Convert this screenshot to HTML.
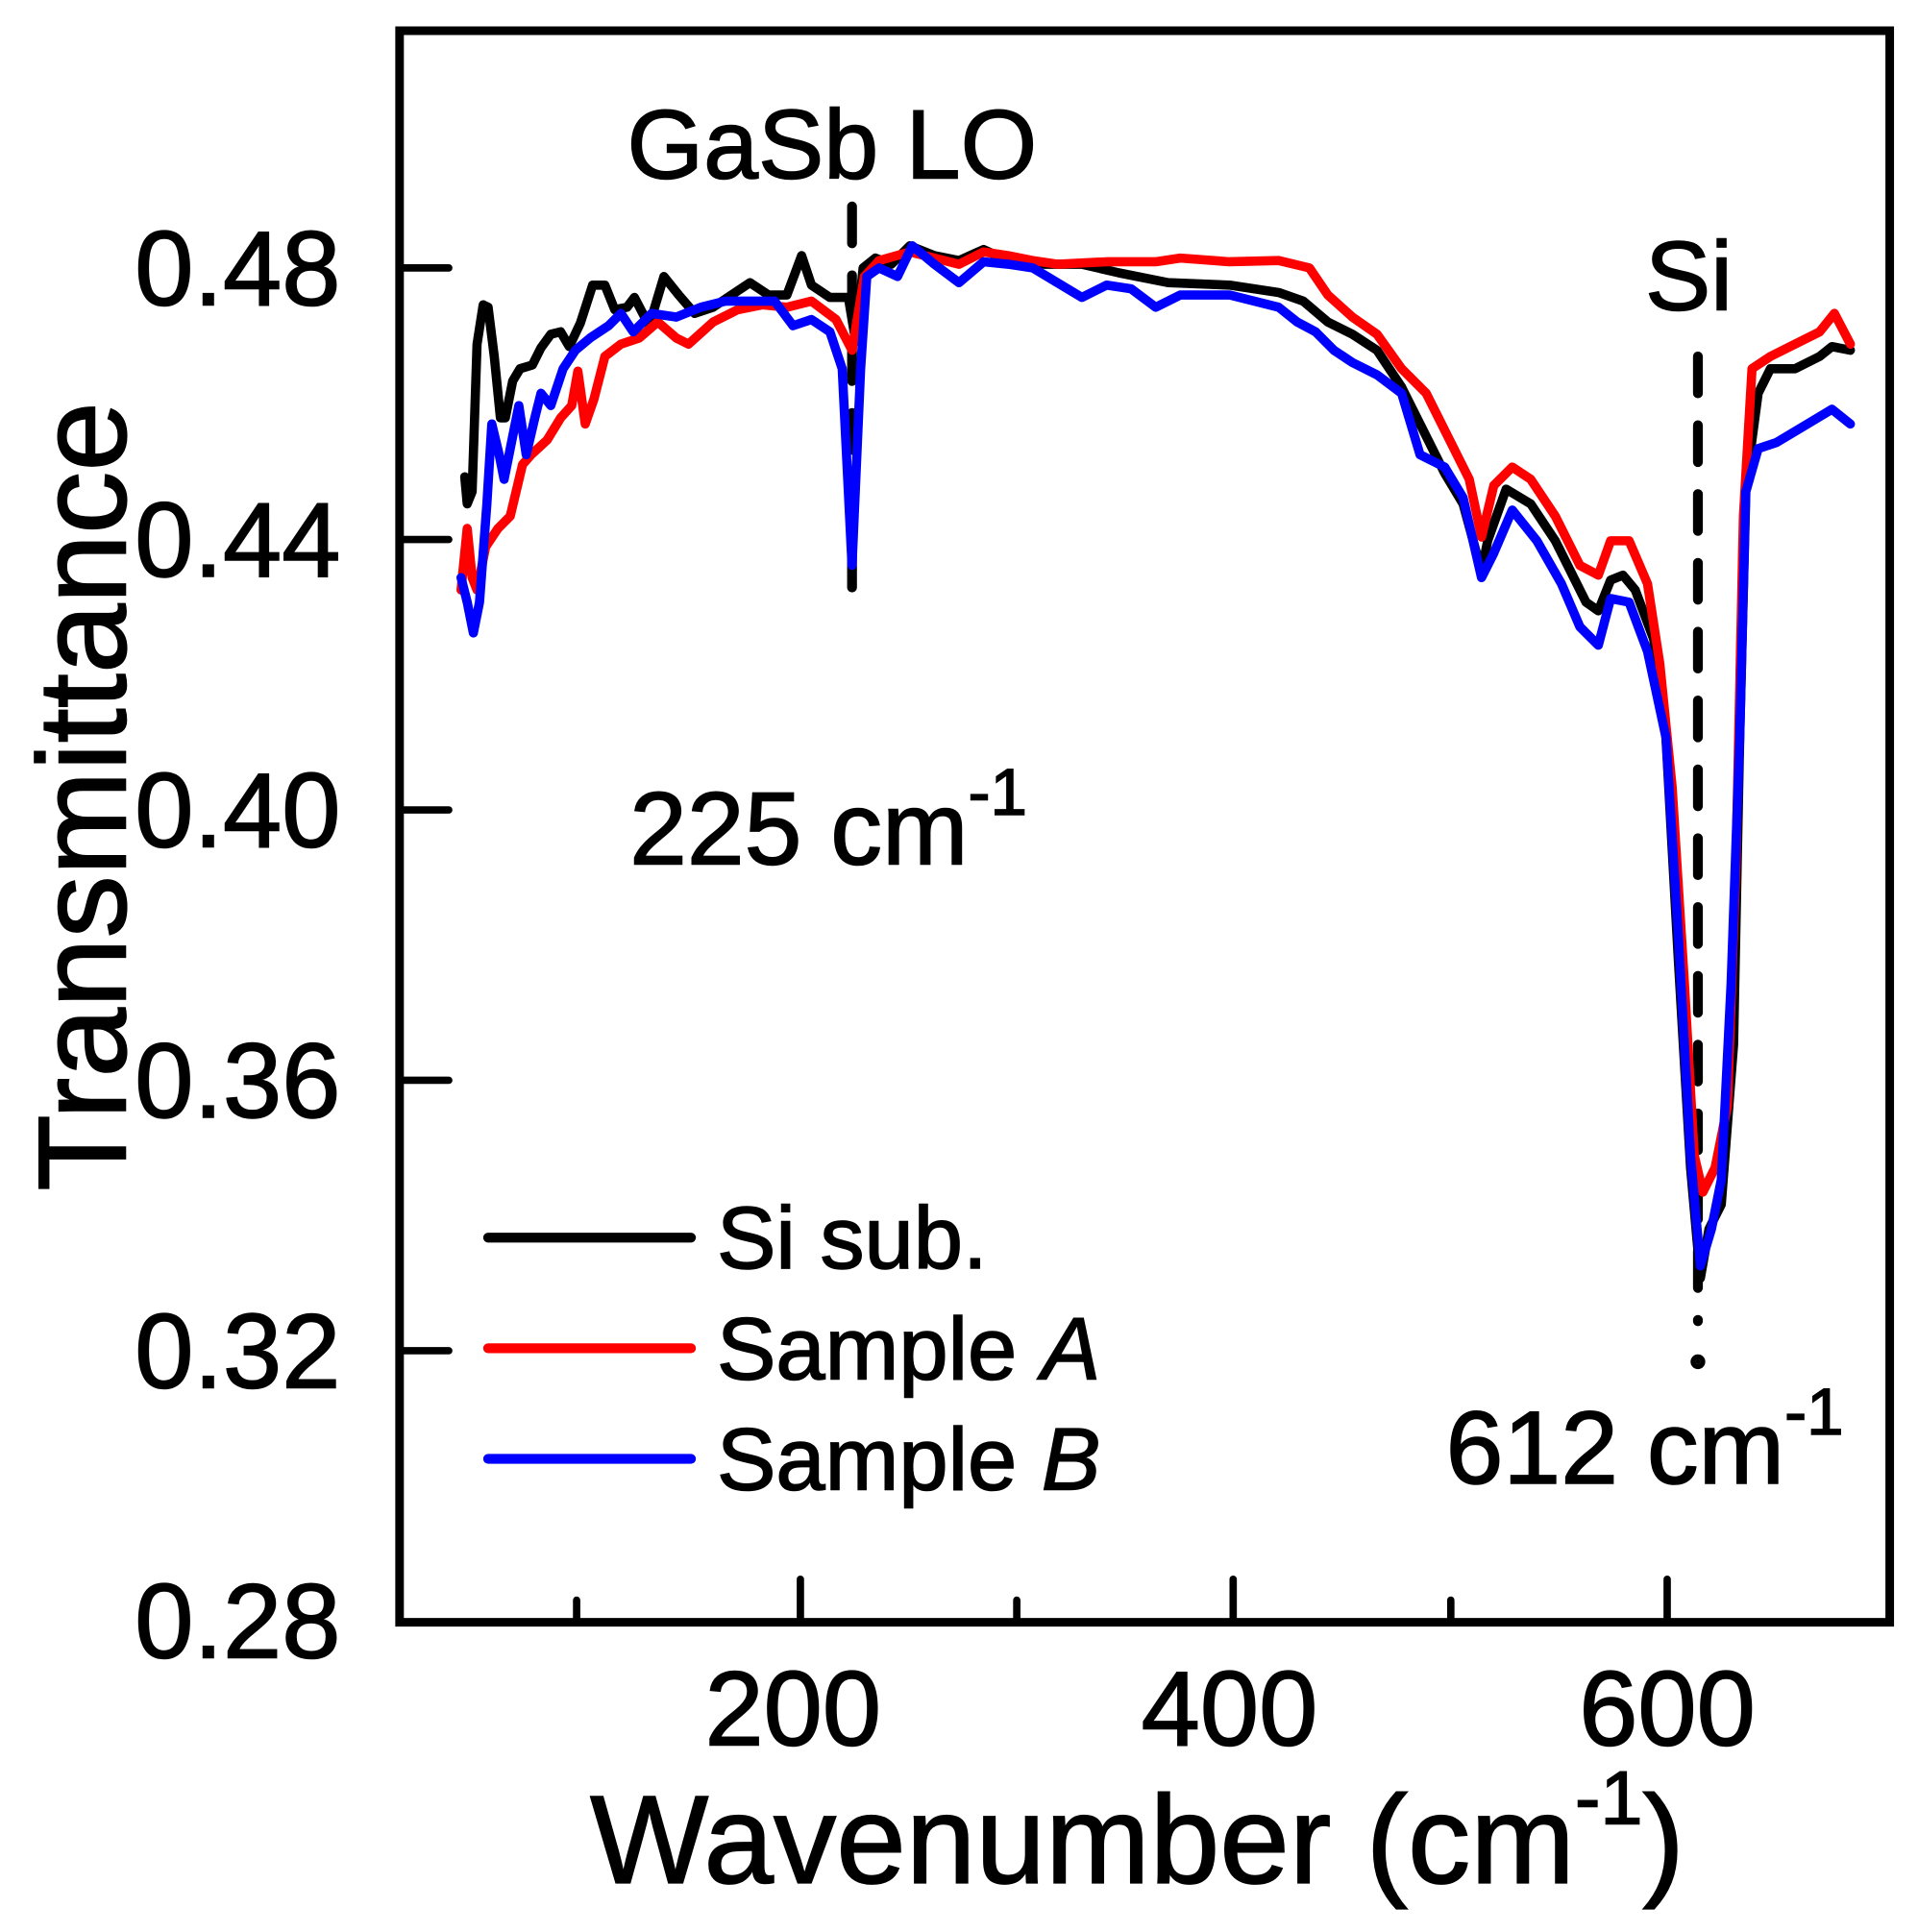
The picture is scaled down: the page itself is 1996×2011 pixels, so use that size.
<!DOCTYPE html>
<html><head><meta charset="utf-8"><style>
html,body{margin:0;padding:0;background:#fff;}
svg{display:block;}
text{font-family:"Liberation Sans",Arial,sans-serif;fill:#000;stroke:#000;stroke-width:1.2;}
</style></head><body>
<svg width="1996" height="2011" viewBox="0 0 1560 1572" preserveAspectRatio="none" xmlns="http://www.w3.org/2000/svg">
<rect x="0" y="0" width="1560" height="1572" fill="#fff"/>
<rect x="325" y="25" width="1212" height="1295" fill="none" stroke="#000" stroke-width="7"/>
<g stroke="#000" stroke-width="6" stroke-linecap="round">
<line x1="325" y1="218" x2="365" y2="218"/>
<line x1="325" y1="439" x2="365" y2="439"/>
<line x1="325" y1="659" x2="365" y2="659"/>
<line x1="325" y1="879" x2="365" y2="879"/>
<line x1="325" y1="1099" x2="365" y2="1099"/>
<line x1="469" y1="1320" x2="469" y2="1302"/>
<line x1="651" y1="1320" x2="651" y2="1285"/>
<line x1="827" y1="1320" x2="827" y2="1302"/>
<line x1="1003" y1="1320" x2="1003" y2="1285"/>
<line x1="1180" y1="1320" x2="1180" y2="1302"/>
<line x1="1356" y1="1320" x2="1356" y2="1285"/>
</g>
<g font-size="86" text-anchor="end">
<text x="277" y="248">0.48</text>
<text x="277" y="469">0.44</text>
<text x="277" y="689">0.40</text>
<text x="277" y="909">0.36</text>
<text x="277" y="1129">0.32</text>
<text x="277" y="1349">0.28</text>
</g>
<g font-size="86" text-anchor="middle">
<text x="645" y="1420">200</text>
<text x="1000" y="1420">400</text>
<text x="1356" y="1420">600</text>
</g>
<text x="925" y="1532" font-size="102" text-anchor="middle">Wavenumber (cm<tspan font-size="62" dy="-48">-1</tspan><tspan dy="48">)</tspan></text>
<text transform="translate(102,648) rotate(-90)" font-size="102" text-anchor="middle">Transmittance</text>
<text x="510" y="145" font-size="80">GaSb LO</text>
<text x="512" y="703" font-size="84">225 cm<tspan font-size="54" dy="-40">-1</tspan></text>
<text x="1338" y="252" font-size="80">Si</text>
<text x="1176" y="1207" font-size="84">612 cm<tspan font-size="54" dy="-40">-1</tspan></text>
<g stroke="#000" stroke-width="8" stroke-linecap="round" fill="none">
<line x1="693" y1="168" x2="693" y2="500" stroke-dasharray="30,26"/>
<line x1="1381" y1="290" x2="1381" y2="1075" stroke-dasharray="30,26"/>
<circle cx="1381" cy="1108" r="2" fill="#000"/>
</g>
<g fill="none" stroke-width="7.5" stroke-linejoin="round" stroke-linecap="round">
<polyline stroke="#000" points="378,388 380,410 384,400 388,280 393,248 397,250 402,290 407,340 411,340 417,310 423,300 433,297 440,283 448,272 456,270 463,282 472,263 482,232 492,232 500,252 510,250 516,242 528,265 540,225 552,240 565,255 580,250 595,240 610,230 625,240 640,240 652,208 660,232 675,242 690,242 696,278 702,218 712,210 725,215 740,200 760,208 780,212 800,203 820,212 850,215 880,215 910,222 950,230 1000,232 1040,238 1060,245 1080,262 1100,272 1120,285 1140,315 1160,355 1175,385 1190,410 1205,465 1210,440 1225,398 1245,410 1265,440 1290,490 1300,497 1310,472 1320,468 1330,480 1345,520 1355,600 1365,780 1375,950 1383,1040 1390,1000 1400,980 1410,850 1415,600 1420,395 1430,320 1440,300 1460,300 1480,290 1490,282 1505,285"/>
<polyline stroke="#f00" points="375,480 380,430 384,470 388,480 395,445 405,430 415,420 425,378 432,370 445,358 456,340 465,330 470,302 476,345 483,325 492,290 505,280 520,275 535,262 550,275 560,280 580,262 600,252 620,248 640,250 660,245 680,260 693,285 703,225 715,212 740,205 760,210 780,215 800,205 820,208 840,212 860,215 900,213 940,213 960,210 1000,213 1040,212 1065,218 1080,240 1100,258 1120,272 1140,300 1160,320 1180,360 1195,390 1205,437 1215,395 1230,380 1245,390 1265,420 1285,460 1300,468 1310,440 1325,440 1340,475 1350,540 1360,640 1370,800 1378,940 1385,970 1395,950 1405,900 1412,700 1418,420 1425,300 1440,290 1460,280 1480,270 1492,255 1505,280"/>
<polyline stroke="#00f" points="375,470 380,490 385,515 390,490 396,410 400,345 406,370 410,390 416,360 422,330 428,370 435,340 440,320 448,330 458,300 468,285 480,275 495,265 505,255 515,270 530,255 550,258 570,250 590,245 610,245 630,245 645,265 660,260 675,270 685,300 693,460 700,300 705,225 715,218 730,225 742,200 760,215 780,230 800,213 820,215 840,218 860,230 880,242 900,232 920,235 940,250 960,240 1000,240 1040,250 1055,262 1070,270 1085,285 1100,295 1120,305 1140,320 1155,370 1175,380 1190,405 1205,470 1215,450 1230,415 1250,440 1270,475 1285,510 1300,525 1310,487 1325,490 1340,530 1355,600 1365,760 1375,940 1383,1030 1392,1000 1400,960 1408,800 1415,600 1420,400 1430,365 1445,360 1470,345 1490,333 1505,345"/>
</g>
<g stroke-width="8" stroke-linecap="round">
<line x1="397" y1="1007" x2="562" y2="1007" stroke="#000"/>
<line x1="397" y1="1097" x2="562" y2="1097" stroke="#f00"/>
<line x1="397" y1="1187" x2="562" y2="1187" stroke="#00f"/>
</g>
<g font-size="72">
<text x="583" y="1032">Si sub.</text>
<text x="583" y="1122">Sample <tspan font-style="italic">A</tspan></text>
<text x="583" y="1212">Sample <tspan font-style="italic">B</tspan></text>
</g>
</svg>
</body></html>
